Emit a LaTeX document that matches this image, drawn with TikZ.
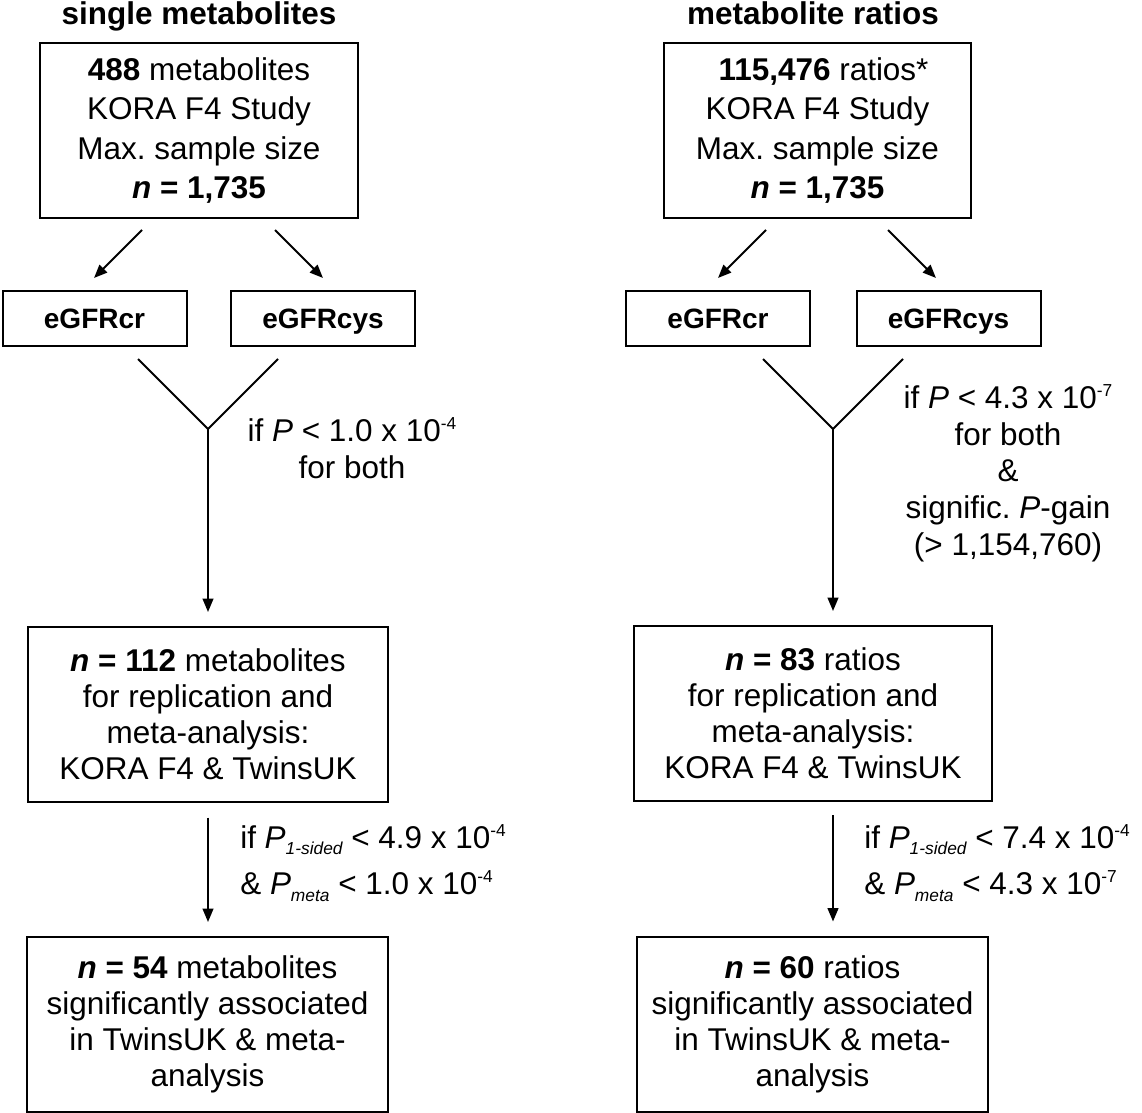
\documentclass[tikz,border=0pt]{standalone}
\usepackage{fontspec}
\setmainfont{Liberation Sans}
\usetikzlibrary{arrows.meta}
\newcommand\lsub[1]{\raisebox{-5pt}{\fontsize{13}{13}\selectfont\itshape #1}}
\newcommand\lsup[1]{\raisebox{9pt}{\fontsize{13}{13}\selectfont #1}}
\frenchspacing
\begin{document}
\frenchspacing
\begin{tikzpicture}[x=0.75pt,y=-0.75pt,
  box/.style={draw,line width=1.5pt,inner sep=0pt,align=center},
  bigtxt/.style={font=\fontsize{23.6}{29.6}\selectfont},
  midtxt/.style={font=\fontsize{23.6}{27}\selectfont},
  gbox/.style={draw,line width=1.5pt,inner sep=0pt,font=\fontsize{21}{25}\selectfont\bfseries,text height=15.2pt,text depth=0pt,minimum width={184*0.75pt},minimum height={55*0.75pt}},
  title/.style={font=\fontsize{23.6}{28}\selectfont\bfseries,anchor=base,inner sep=0pt},
  cond/.style={inner sep=0pt,align=center,font=\fontsize{23.6}{27.5}\selectfont},
  condl/.style={inner sep=0pt,align=left,anchor=west,font=\fontsize{23.6}{35}\selectfont},
  ln/.style={line width=1.5pt},
  arr/.style={line width=1.5pt,-{Triangle[length=10pt,width=8pt]}}]
\useasboundingbox (0,0) rectangle (1142,1113);

% titles
\node[title] (h1) at (199,25) {single metabolites};
\node[title] (h2) at (813,25) {metabolite ratios};

% top boxes
\node[box,bigtxt,minimum width={318*0.75pt},minimum height={175*0.75pt}] (t1) at (199,130.5)
  {\textbf{488} metabolites\\KORA F4 Study\\Max. sample size\\\textbf{\textit{n} = 1,735}};
\node[box,bigtxt,minimum width={307*0.75pt},minimum height={175*0.75pt}] (t2) at (817.5,130.5)
  {\hspace*{9pt}\textbf{115,476} ratios*\\KORA F4 Study\\Max. sample size\\\textbf{\textit{n} = 1,735}};

% eGFR boxes
\node[gbox] (cr1) at (94.5,318.5) {eGFRcr};
\node[gbox] (cy1) at (323,318.5) {eGFRcys};
\node[gbox] (cr2) at (718,318.5) {eGFRcr};
\node[gbox] (cy2) at (948.5,318.5) {eGFRcys};

% arrows top -> eGFR
\coordinate (s1a) at (142,230); \coordinate (e1a) at (94,278);
\coordinate (s1b) at (275,230); \coordinate (e1b) at (323,278);
\coordinate (s2a) at (766,230); \coordinate (e2a) at (718,278);
\coordinate (s2b) at (888,230); \coordinate (e2b) at (936,278);
\draw[arr] (s1a) -- (e1a);
\draw[arr] (s1b) -- (e1b);
\draw[arr] (s2a) -- (e2a);
\draw[arr] (s2b) -- (e2b);

% middle boxes
\node[box,midtxt,minimum width={360*0.75pt},minimum height={175*0.75pt}] (m1) at (208,714.5)
  {\textbf{\textit{n} = 112} metabolites\\for replication and\\meta-analysis:\\KORA F4 \& TwinsUK};
\node[box,midtxt,minimum width={358*0.75pt},minimum height={175*0.75pt}] (m2) at (813,713.5)
  {\textbf{\textit{n} = 83} ratios\\for replication and\\meta-analysis:\\KORA F4 \& TwinsUK};

% Y shapes
\coordinate (ya1) at (138,359); \coordinate (yb1) at (278,359); \coordinate (j1) at (208,429);
\coordinate (ya2) at (763,359); \coordinate (yb2) at (903,359); \coordinate (j2) at (833,429);
\coordinate (m1t) at ([yshift=10.5pt]m1.north);
\coordinate (m2t) at ([yshift=10.5pt]m2.north);
\draw[ln,line join=miter] (ya1) -- (j1) -- (yb1);
\draw[ln,line join=miter] (ya2) -- (j2) -- (yb2);
\draw[arr] (j1) -- (j1 |- m1t);
\draw[arr] (j2) -- (j2 |- m2t);

\node[cond] (c1) at (352,448.5) {if \textit{P} < 1.0 x 10\lsup{-4}\\for both};
\node[cond] (c2) at (1008,473) {if \textit{P} < 4.3 x 10\lsup{-7}\\for both\\\&\\signific. \textit{P}-gain\\(> 1,154,760)};

% bottom boxes
\node[box,midtxt,minimum width={361*0.75pt},minimum height={175*0.75pt}] (b1) at (207.5,1024.5)
  {\textbf{\textit{n} = 54} metabolites\\significantly associated\\in TwinsUK \& meta-\\analysis};
\node[box,midtxt,minimum width={351*0.75pt},minimum height={175*0.75pt}] (b2) at (812.5,1024)
  {\textbf{\textit{n} = 60} ratios\\significantly associated\\in TwinsUK \& meta-\\analysis};

% bottom arrows
\coordinate (p1) at ([yshift=-11pt]m1.south);
\coordinate (b1t) at ([yshift=10.5pt]b1.north);
\coordinate (p2) at ([xshift=15pt,yshift=-10pt]m2.south);
\coordinate (b2t) at ([yshift=10.5pt]b2.north);
\draw[arr] (p1) -- (p1 |- b1t);
\draw[arr] (p2) -- (p2 |- b2t);

\node[condl] (c3) at (240,863) {if \textit{P}\lsub{1-sided} < 4.9 x 10\lsup{-4}\\\& \textit{P}\lsub{meta} < 1.0 x 10\lsup{-4}};
\node[condl] (c4) at (864,863) {if \textit{P}\lsub{1-sided} < 7.4 x 10\lsup{-4}\\\& \textit{P}\lsub{meta} < 4.3 x 10\lsup{-7}};
\end{tikzpicture}
\end{document}
